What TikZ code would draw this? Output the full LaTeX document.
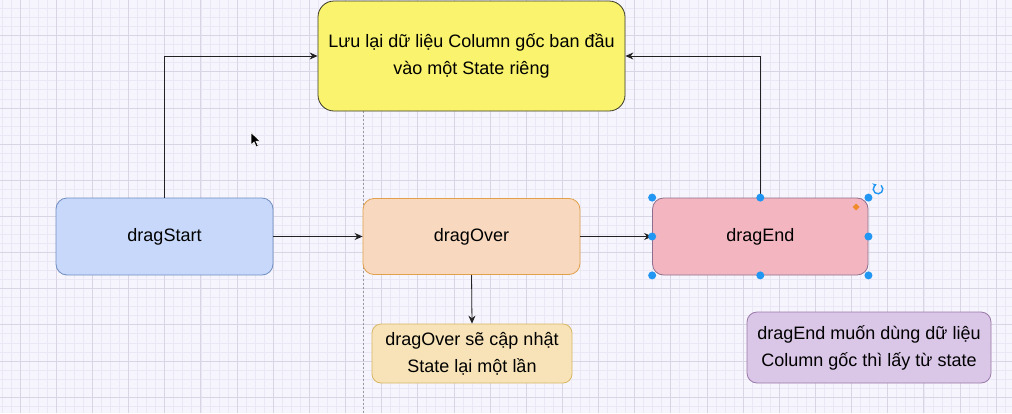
\documentclass[tikz,border=0pt]{standalone}
\usepackage{fontspec}
\setmainfont{Liberation Sans}
\usetikzlibrary{arrows.meta}
\definecolor{bgc}{HTML}{F6F4FC}
\definecolor{minorc}{HTML}{EBE8F5}
\definecolor{majorc}{HTML}{D9D5E4}
\definecolor{yfill}{HTML}{F9F36D}
\definecolor{ydraw}{HTML}{3A3A2A}
\definecolor{bfill}{HTML}{C8D8FA}
\definecolor{bdraw}{HTML}{6F8EC0}
\definecolor{ofill}{HTML}{F8D9BF}
\definecolor{odraw}{HTML}{E0A04C}
\definecolor{rfill}{HTML}{F3B6C0}
\definecolor{rdraw}{HTML}{8E6E8C}
\definecolor{sfill}{HTML}{F7E3B7}
\definecolor{sdraw}{HTML}{D8B766}
\definecolor{pfill}{HTML}{DAC6E7}
\definecolor{pdraw}{HTML}{9A78AA}
\definecolor{handle}{HTML}{2196F3}
\definecolor{diam}{HTML}{F08C2C}
\definecolor{linec}{HTML}{222222}
\tikzset{
  boxbase/.style={rectangle, line width=0.8pt, align=center, inner sep=2pt,
    font=\fontsize{18}{27}\selectfont, text=black},
  arr/.style={line width=0.8pt, draw=linec, -{Stealth[length=8pt,width=7pt]}},
  hdl/.style={circle, fill=handle, inner sep=0pt, minimum size=8pt},
}
\begin{document}
\begin{tikzpicture}[x=1pt,y=-1pt]
\useasboundingbox (0,0) rectangle (1012,413);
\fill[bgc] (0,0) rectangle (1012,413);
% grid
\foreach \i in {0,...,115} {
  \draw[minorc, line width=0.5pt] ({-16.15+9.0375*\i},0) -- ({-16.15+9.0375*\i},413);
}
\foreach \j in {0,...,46} {
  \draw[minorc, line width=0.5pt] (0,{-0.65+9.0375*\j}) -- (1012,{-0.65+9.0375*\j});
}
\foreach \i in {0,...,28} {
  \draw[majorc, line width=0.6pt] ({20+36.15*\i},0) -- ({20+36.15*\i},413);
}
\foreach \j in {0,...,11} {
  \draw[majorc, line width=0.6pt] (0,{35.5+36.15*\j}) -- (1012,{35.5+36.15*\j});
}
% dashed guide
\coordinate (gtop) at (363.3,111);
\coordinate (gbot) at (363.3,413);
\draw[gray!80, line width=0.6pt, dash pattern=on 2pt off 2pt] (gtop) -- (gbot);

% nodes
\node[boxbase, fill=yfill, draw=ydraw, rounded corners=16pt, minimum width=307pt, minimum height=110pt]
  (yellow) at (471.5,56) {Lưu lại dữ liệu Column gốc ban đầu\\vào một State riêng};
\node[boxbase, fill=bfill, draw=bdraw, rounded corners=11pt, minimum width=217pt, minimum height=77pt]
  (start) at (164.5,236.5) {dragStart};
\node[boxbase, fill=ofill, draw=odraw, rounded corners=11pt, minimum width=217pt, minimum height=76pt]
  (over) at (471.5,236.5) {dragOver};
\node[boxbase, fill=rfill, draw=rdraw, rounded corners=11pt, minimum width=215.5pt, minimum height=77pt]
  (end) at (760.3,236.5) {dragEnd};
\node[boxbase, fill=sfill, draw=sdraw, rounded corners=9pt, minimum width=200pt, minimum height=59pt]
  (upd) at (472,353.5) {dragOver sẽ cập nhật\\State lại một lần};
\node[boxbase, fill=pfill, draw=pdraw, rounded corners=10pt, minimum width=244pt, minimum height=71pt]
  (note) at (869,347.5) {dragEnd muốn dùng dữ liệu\\Column gốc thì lấy từ state};

% connectors
\draw[arr] (start.north) |- (yellow.west);
\draw[arr] (end.north) |- (yellow.east);
\draw[arr] (start.east) -- (over.west);
\draw[arr] (over.east) -- (end.west);
\draw[arr] (over.south) -- (upd.north);

% selection handles
\foreach \a in {north west, north, north east, west, east, south west, south, south east} {
  \node[hdl] at (end.\a) {};
}
% orange diamond
\fill[diam] (856,203.5) -- (859.5,207) -- (856,210.5) -- (852.5,207) -- cycle;
% rotate icon
\coordinate (rotc) at (878,189);
\draw[handle, line width=1.4pt, -{Stealth[length=3.5pt,width=5pt]}] ([shift={(50:4.8pt)}]rotc) arc[start angle=50, end angle=-250, radius=4.8pt];
% mouse cursor
\filldraw[fill=black, draw=white, line width=0.6pt]
  (251,132.5) -- (251,145) -- (254,142) -- (256.3,147) -- (258.3,146.1) -- (256,141.2) -- (260,141) -- cycle;
\end{tikzpicture}
\end{document}
